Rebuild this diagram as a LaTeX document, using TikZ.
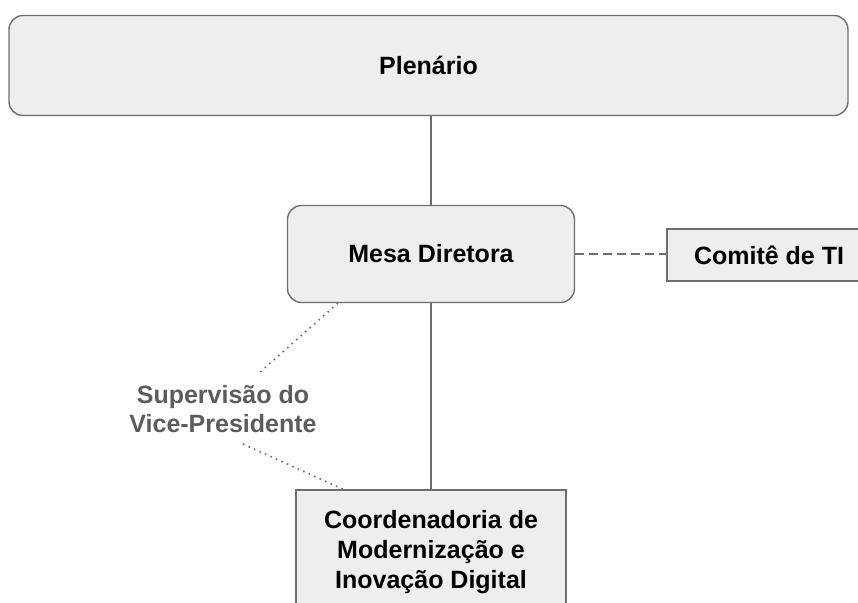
\documentclass[tikz,border=0pt]{standalone}
\usepackage{fontspec}
\setmainfont{Liberation Sans}
\usepackage{xcolor}
\usetikzlibrary{positioning}

\definecolor{boxfill}{HTML}{EEEEEE}
\definecolor{boxline}{HTML}{6E6E6E}
\definecolor{labeltext}{HTML}{5C5C5C}

\tikzset{
	orgbox/.style = {draw = boxline, fill = boxfill, line width = 1.4pt, inner sep = 0pt, align = center, font = \fontsize{25}{30}\selectfont\bfseries},
	roundbox/.style = {orgbox, rounded corners = 14pt},
	suplabel/.style = {text = labeltext, align = center, inner sep = 0pt, font = \fontsize{25}{29}\selectfont\bfseries},
	link/.style = {draw = boxline, line width = 1.4pt},
	dashlink/.style = {link, dash pattern = on 9pt off 5pt},
	dotlink/.style = {draw = boxline, line width = 1.6pt, dash pattern = on 1.6pt off 4.4pt}
}

\begin{document}
\begin{tikzpicture}[x = 1pt, y = -1pt]
	%frame of the picture
	\useasboundingbox (0,0) rectangle (858,602);
	\clip (0,0) rectangle (858,602);
	
	%boxes
	\node [roundbox, minimum width = 839pt, minimum height = 100pt] (plenario) at (428.5,65.5) {Plenário};
	\node [roundbox, minimum width = 287pt, minimum height = 97pt] (mesa) at (431,254) {Mesa Diretora};
	\node [orgbox, minimum width = 204pt, minimum height = 52pt] (comite) at (769,255) {Comitê de TI};
	\node [orgbox, minimum width = 270pt, minimum height = 124pt] (coord) at (431,552) {Coordenadoria de\\Modernização e\\Inovação Digital};
	
	%supervision label
	\node [suplabel] (sup) at (223,409) {Supervisão do\\Vice-Presidente};
	\coordinate (supin) at (258,374);
	\coordinate (supout) at (243,444);
	
	%connectors
	\draw [link] (mesa.north |- plenario.south) -- (mesa.north);
	\draw [link] (mesa.south) -- (coord.north);
	\draw [dashlink] (mesa.east) -- (mesa.east -| comite.west);
	
	\draw [dotlink] ([xshift = 51pt]mesa.south west) -- (supin);
	\draw [dotlink] (supout) -- ([xshift = 48pt]coord.north west);
\end{tikzpicture}
\end{document}
